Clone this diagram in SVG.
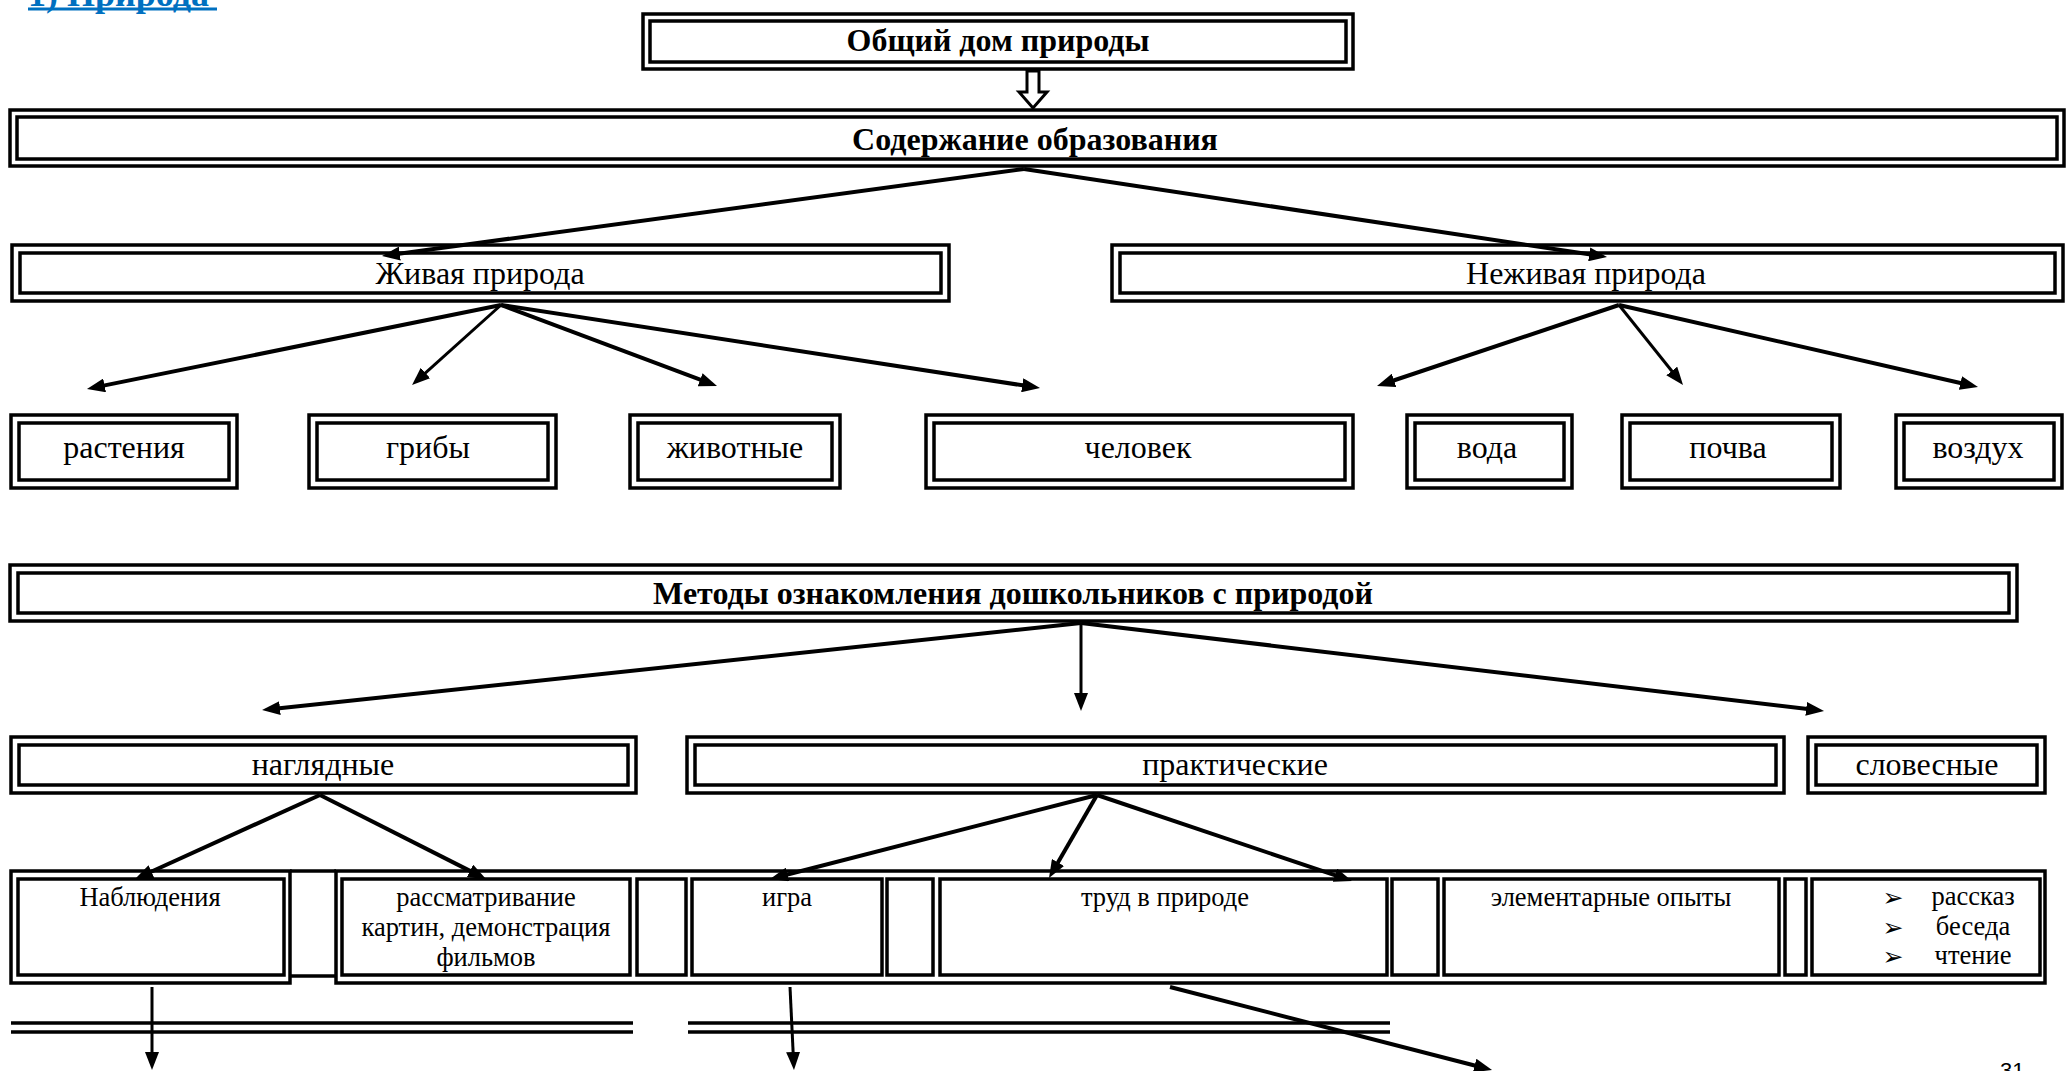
<svg xmlns="http://www.w3.org/2000/svg" width="2067" height="1071" viewBox="0 0 2067 1071">
<style>
  .o{fill:none;stroke:#000;stroke-width:3.5}
  .t{font-family:"Liberation Serif","Times New Roman",serif;font-size:32px;fill:#000;text-anchor:middle}
  .b{font-weight:bold}
  .s{font-size:26.5px}
  .c{fill:none;stroke:#000;stroke-width:4}
  .c3{fill:none;stroke:#000;stroke-width:3}
  .bul{font-family:"DejaVu Sans",sans-serif;font-size:25px;fill:#000;text-anchor:middle}
</style>
<defs>
  <marker id="ah" viewBox="0 0 18 14" refX="10" refY="7" markerWidth="18" markerHeight="14" markerUnits="userSpaceOnUse" orient="auto">
    <path d="M0,0 L18,7 L0,14 z" fill="#000"/>
  </marker>
</defs>
<rect width="2067" height="1071" fill="#fff"/>

<g id="heading">
  <text x="28" y="6" font-family="Liberation Serif, serif" font-weight="bold" font-size="36" fill="#0070C0">1) Природа</text>
  <rect x="28" y="7.5" width="189" height="3" fill="#0070C0"/>
</g>

<g id="n-home">
  <rect class="o" x="643" y="14" width="710" height="55"/>
  <rect class="o" x="650" y="21" width="696" height="41"/>
  <text class="t b" x="998" y="51">Общий дом природы</text>
</g>

<g id="n-content">
  <rect class="o" x="10" y="110" width="2054" height="56"/>
  <rect class="o" x="17" y="117" width="2040" height="42"/>
  <text class="t b" x="1035" y="150">Содержание образования</text>
</g>

<g id="n-living">
  <rect class="o" x="12" y="245" width="937" height="56"/>
  <rect class="o" x="20" y="253" width="921" height="40"/>
  <text class="t" x="480" y="284">Живая природа</text>
</g>

<g id="n-nonliving">
  <rect class="o" x="1112" y="245" width="951" height="56"/>
  <rect class="o" x="1120" y="253" width="935" height="40"/>
  <text class="t" x="1586" y="284">Неживая природа</text>
</g>

<g id="n-plants">
  <rect class="o" x="11" y="415" width="226" height="73"/>
  <rect class="o" x="19" y="423" width="210" height="57"/>
  <text class="t" x="124" y="458">растения</text>
</g>
<g id="n-fungi">
  <rect class="o" x="309" y="415" width="247" height="73"/>
  <rect class="o" x="317" y="423" width="231" height="57"/>
  <text class="t" x="428" y="458">грибы</text>
</g>
<g id="n-animals">
  <rect class="o" x="630" y="415" width="210" height="73"/>
  <rect class="o" x="638" y="423" width="194" height="57"/>
  <text class="t" x="735" y="458">животные</text>
</g>
<g id="n-human">
  <rect class="o" x="926" y="415" width="427" height="73"/>
  <rect class="o" x="934" y="423" width="411" height="57"/>
  <text class="t" x="1138" y="458">человек</text>
</g>
<g id="n-water">
  <rect class="o" x="1407" y="415" width="165" height="73"/>
  <rect class="o" x="1415" y="423" width="149" height="57"/>
  <text class="t" x="1487" y="458">вода</text>
</g>
<g id="n-soil">
  <rect class="o" x="1622" y="415" width="218" height="73"/>
  <rect class="o" x="1630" y="423" width="202" height="57"/>
  <text class="t" x="1728" y="458">почва</text>
</g>
<g id="n-air">
  <rect class="o" x="1896" y="415" width="166" height="73"/>
  <rect class="o" x="1904" y="423" width="150" height="57"/>
  <text class="t" x="1978" y="458">воздух</text>
</g>

<g id="n-methods">
  <rect class="o" x="10" y="565" width="2007" height="56"/>
  <rect class="o" x="18" y="573" width="1991" height="40"/>
  <text class="t b" x="1013" y="604">Методы ознакомления дошкольников с природой</text>
</g>

<g id="n-visual">
  <rect class="o" x="11" y="737" width="625" height="56"/>
  <rect class="o" x="19" y="745" width="609" height="40"/>
  <text class="t" x="323" y="775">наглядные</text>
</g>
<g id="n-practical">
  <rect class="o" x="687" y="737" width="1097" height="56"/>
  <rect class="o" x="695" y="745" width="1081" height="40"/>
  <text class="t" x="1235" y="775">практические</text>
</g>
<g id="n-verbal">
  <rect class="o" x="1808" y="737" width="237" height="56"/>
  <rect class="o" x="1816" y="745" width="221" height="40"/>
  <text class="t" x="1927" y="775">словесные</text>
</g>

<g id="n-table">
  <line class="o" x1="290" y1="871" x2="336" y2="871"/>
  <line class="o" x1="290" y1="976" x2="336" y2="976"/>
  <rect class="o" x="336" y="871" width="1709" height="112"/>
  <rect class="o" x="637" y="879" width="49" height="96"/>
  <rect class="o" x="887" y="879" width="46" height="96"/>
  <rect class="o" x="1392" y="879" width="46" height="96"/>
  <rect class="o" x="1785" y="879" width="21" height="96"/>
</g>
<g id="n-observation">
  <rect class="o" x="11" y="871" width="279" height="112"/>
  <rect class="o" x="18" y="879" width="266" height="96"/>
  <text class="t s" x="150" y="906">Наблюдения</text>
</g>
<g id="n-pictures">
  <rect class="o" x="342" y="879" width="288" height="96"/>
  <text class="t s" x="486" y="906">рассматривание</text>
  <text class="t s" x="486" y="936">картин, демонстрация</text>
  <text class="t s" x="486" y="966">фильмов</text>
</g>
<g id="n-game">
  <rect class="o" x="692" y="879" width="190" height="96"/>
  <text class="t s" x="787" y="906">игра</text>
</g>
<g id="n-labour">
  <rect class="o" x="940" y="879" width="447" height="96"/>
  <text class="t s" x="1165" y="906">труд в природе</text>
</g>
<g id="n-experiments">
  <rect class="o" x="1444" y="879" width="335" height="96"/>
  <text class="t s" x="1611" y="906">элементарные опыты</text>
</g>
<g id="n-verbal-list">
  <rect class="o" x="1812" y="879" width="228" height="96"/>
  <text class="bul" x="1893" y="906">➢</text>
  <text class="bul" x="1893" y="936">➢</text>
  <text class="bul" x="1893" y="965">➢</text>
  <text class="t s" x="1973" y="905">рассказ</text>
  <text class="t s" x="1973" y="935">беседа</text>
  <text class="t s" x="1973" y="964">чтение</text>
</g>

<g id="n-bottom-lines">
  <line class="o" x1="11" y1="1023" x2="633" y2="1023"/>
  <line class="o" x1="11" y1="1032" x2="633" y2="1032"/>
  <line class="o" x1="688" y1="1023" x2="1390" y2="1023"/>
  <line class="o" x1="688" y1="1032" x2="1390" y2="1032"/>
</g>

<g id="page-number">
  <text x="2000" y="1078" font-family="Liberation Sans, Arial, sans-serif" font-size="22" fill="#000">31</text>
</g>

<g id="connectors">
  <polygon points="1027,71 1039,71 1039,92 1047,92 1033,108 1019,92 1027,92" fill="#fff" stroke="#000" stroke-width="3"/>
  <line class="c" x1="1024" y1="169" x2="389.9" y2="254.9" marker-end="url(#ah)"/>
  <line class="c" x1="1024" y1="169" x2="1599.1" y2="255.8" marker-end="url(#ah)"/>
  <line class="c" x1="501" y1="305" x2="94.8" y2="387.4" marker-end="url(#ah)"/>
  <line class="c3" x1="501" y1="305" x2="418" y2="379.7" marker-end="url(#ah)"/>
  <line class="c" x1="501" y1="305" x2="709.5" y2="383.2" marker-end="url(#ah)"/>
  <line class="c" x1="501" y1="305" x2="1032.1" y2="386.8" marker-end="url(#ah)"/>
  <line class="c" x1="1619" y1="305" x2="1384.6" y2="383.5" marker-end="url(#ah)"/>
  <line class="c3" x1="1619" y1="305" x2="1678" y2="378.8" marker-end="url(#ah)"/>
  <line class="c" x1="1619" y1="305" x2="1970.2" y2="385.2" marker-end="url(#ah)"/>
  <line class="c" x1="1081" y1="623" x2="270" y2="709.2" marker-end="url(#ah)"/>
  <line class="c3" x1="1081" y1="623" x2="1081" y2="703" marker-end="url(#ah)"/>
  <line class="c" x1="1081" y1="623" x2="1816.1" y2="710.1" marker-end="url(#ah)"/>
  <line class="c" x1="320" y1="795" x2="142.3" y2="875.7" marker-end="url(#ah)"/>
  <line class="c" x1="320" y1="795" x2="478.9" y2="875.4" marker-end="url(#ah)"/>
  <line class="c" x1="1097" y1="795" x2="777.8" y2="877" marker-end="url(#ah)"/>
  <line class="c" x1="1097" y1="795" x2="1053" y2="871.1" marker-end="url(#ah)"/>
  <line class="c" x1="1097" y1="795" x2="1344.4" y2="878.4" marker-end="url(#ah)"/>
  <line class="c3" x1="152" y1="987" x2="152" y2="1062" marker-end="url(#ah)"/>
  <line class="c3" x1="790" y1="987" x2="793.6" y2="1062" marker-end="url(#ah)"/>
  <line class="c" x1="1170" y1="987" x2="1484.3" y2="1068" marker-end="url(#ah)"/>
</g>
</svg>
